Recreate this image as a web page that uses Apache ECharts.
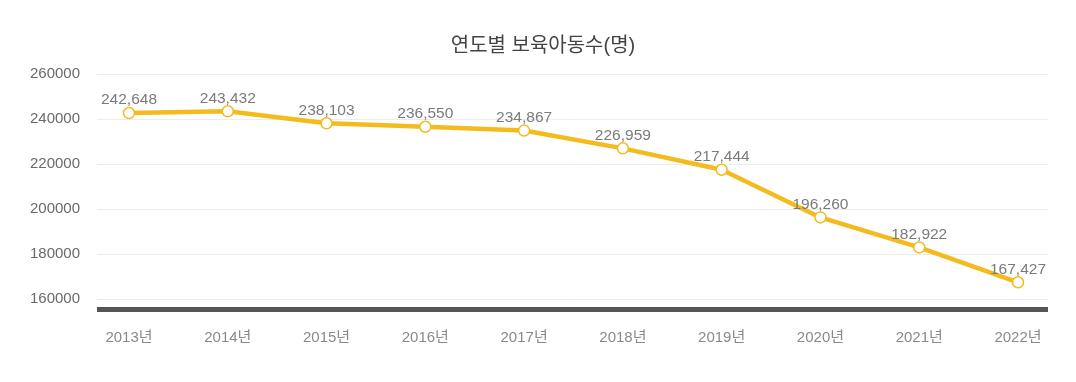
<!DOCTYPE html>
<html><head><meta charset="utf-8">
<script src="https://cdn.jsdelivr.net/npm/echarts@6/dist/echarts.min.js"></script>
<style>html,body{margin:0;padding:0;background:#fff}#c{width:1076px;height:382px}</style>
</head><body><div id="c"></div>
<script>
const title = '연도별 보육아동수(명)';
const years = ['2013년','2014년','2015년','2016년','2017년','2018년','2019년','2020년','2021년','2022년'];
const values = [242648, 243432, 238103, 236550, 234867, 226959, 217444, 196260, 182922, 167427];
const yMin = 160000, yMax = 260000, yStep = 20000;

const FONT = '"Liberation Sans", "Noto Sans CJK KR", sans-serif';
const chart = echarts.init(document.getElementById('c'));
chart.setOption({
  animation: false,
  title: {text: title, left: 538, textAlign: 'center', top: 31,
    textStyle: {fontFamily: FONT, fontSize: 20, fontWeight: 'normal', color: '#444'}},
  grid: [
    {left: 97, right: 28, top: 74, bottom: 83},
    {left: 129, right: 58, top: 74, bottom: 83}
  ],
  xAxis: [
    {type: 'category', gridIndex: 0, data: years, offset: 10,
     axisLine: {show: true, lineStyle: {color: '#555', width: 5, cap: 'butt'}},
     axisTick: {show: false}, axisLabel: {show: false}, splitLine: {show: false}},
    {type: 'category', gridIndex: 1, data: years, boundaryGap: false, offset: 10,
     axisLine: {show: false}, axisTick: {show: false},
     axisLabel: {margin: 21, fontFamily: FONT, fontSize: 15, color: '#8a8a8a'}}
  ],
  yAxis: [
    {type: 'value', gridIndex: 0, min: yMin, max: yMax, interval: yStep,
     axisLine: {show: false}, axisTick: {show: false},
     axisLabel: {margin: 17, fontFamily: FONT, fontSize: 15, color: '#6a6a6a', formatter: v => String(v)},
     splitLine: {lineStyle: {color: '#ececec', width: 1}}},
    {type: 'value', gridIndex: 1, min: yMin, max: yMax, interval: yStep, show: false,
     splitLine: {show: false}}
  ],
  series: [{
    type: 'line', xAxisIndex: 1, yAxisIndex: 1, data: values,
    symbol: 'circle', symbolSize: 11,
    lineStyle: {color: '#f3bb1c', width: 4.5},
    itemStyle: {color: '#fff', borderColor: '#f3bb1c', borderWidth: 1.5},
    label: {show: true, position: 'top', distance: -1, fontFamily: FONT, fontSize: 15.5, color: '#7a7a7a',
      formatter: p => p.value.toLocaleString('en-US')}
  }]
});
</script></body></html>
